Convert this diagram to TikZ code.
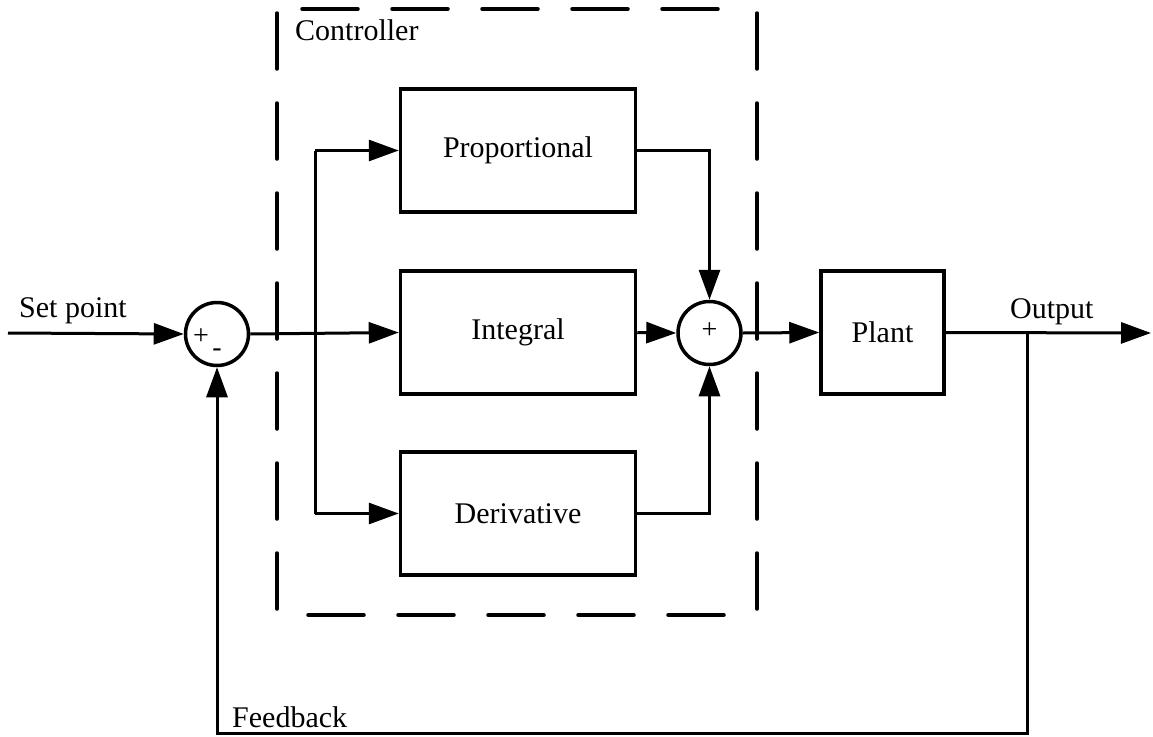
\documentclass[tikz,border=0pt]{standalone}
\usepackage{fontspec}
\setmainfont{Liberation Serif}
\usetikzlibrary{arrows.meta}
\begin{document}
\begin{tikzpicture}[x=1pt,y=-1pt,
  blk/.style={draw, line width=3.5pt, minimum width=235pt, minimum height=123pt, inner sep=0pt, font=\fontsize{30}{33}\selectfont},
  sumnode/.style={draw, circle, line width=3.5pt, minimum size=63pt, inner sep=0pt},
  conn/.style={line width=3pt},
  arr/.style={conn, -{Triangle[length=30pt,width=21pt]}},
  lbl/.style={inner sep=0pt, anchor=base west, font=\fontsize{30}{33}\selectfont},
  sgn/.style={inner sep=0pt, font=\fontsize{28}{30}\selectfont},
  dashbox/.style={line width=3.5pt, line cap=round, dash pattern=on 56pt off 34pt}
]
\useasboundingbox (0,0) rectangle (1153,736);

% blocks
\node[blk] (P) at (518,150.5) {Proportional};
\node[blk] (I) at (518,332.5) {Integral};
\node[blk] (D) at (518,513.5) {Derivative};
\node[blk, minimum width=123pt] (Pl) at (882.5,332.5) {Plant};

% summing junctions
\node[sumnode] (s1) at (217,334) {};
\node[sgn] (s1p) at (201,337) {+};
\node[sgn] (s1m) at (217,353) {-};
\node[sumnode] (s2) at (709.5,333) {};
\node[sgn] (s2p) at (709.5,331) {+};

% controller frame
\draw[dashbox] (277,13) -- (277,614);
\draw[dashbox] (757,13) -- (757,614);
\draw[dashbox] (302,9) -- (726,9);
\draw[dashbox] (308,615) -- (726,615);

% labels
\node[lbl] (lsp) at (19,317) {Set point};
\node[lbl] (lout) at (1010,318) {Output};
\node[lbl] (lfb) at (232,727) {Feedback};
\node[lbl] (lctl) at (295,40) {Controller};

% coordinates
\coordinate (sp) at (8,333);
\coordinate (br) at (315,333);
\coordinate (out) at (1151,333);
\coordinate (fb) at (1027,333);
\coordinate (fbb) at (1027,733);

% connectors
\draw[arr] (sp) -- (s1.west);
\draw[arr] (s1.east) -- (I.west);
\draw[conn] (br |- P.west) -- (br |- D.west);
\draw[arr] (br |- P.west) -- (P.west);
\draw[arr] (br |- D.west) -- (D.west);
\draw[arr] (P.east) -| (s2.north);
\draw[arr] (D.east) -| (s2.south);
\draw[arr] (I.east) -- (s2.west);
\draw[arr] (s2.east) -- (Pl.west);
\draw[arr] (Pl.east) -- (out);
\draw[arr] (fb) -- (fbb) -| (s1.south);
\end{tikzpicture}
\end{document}
